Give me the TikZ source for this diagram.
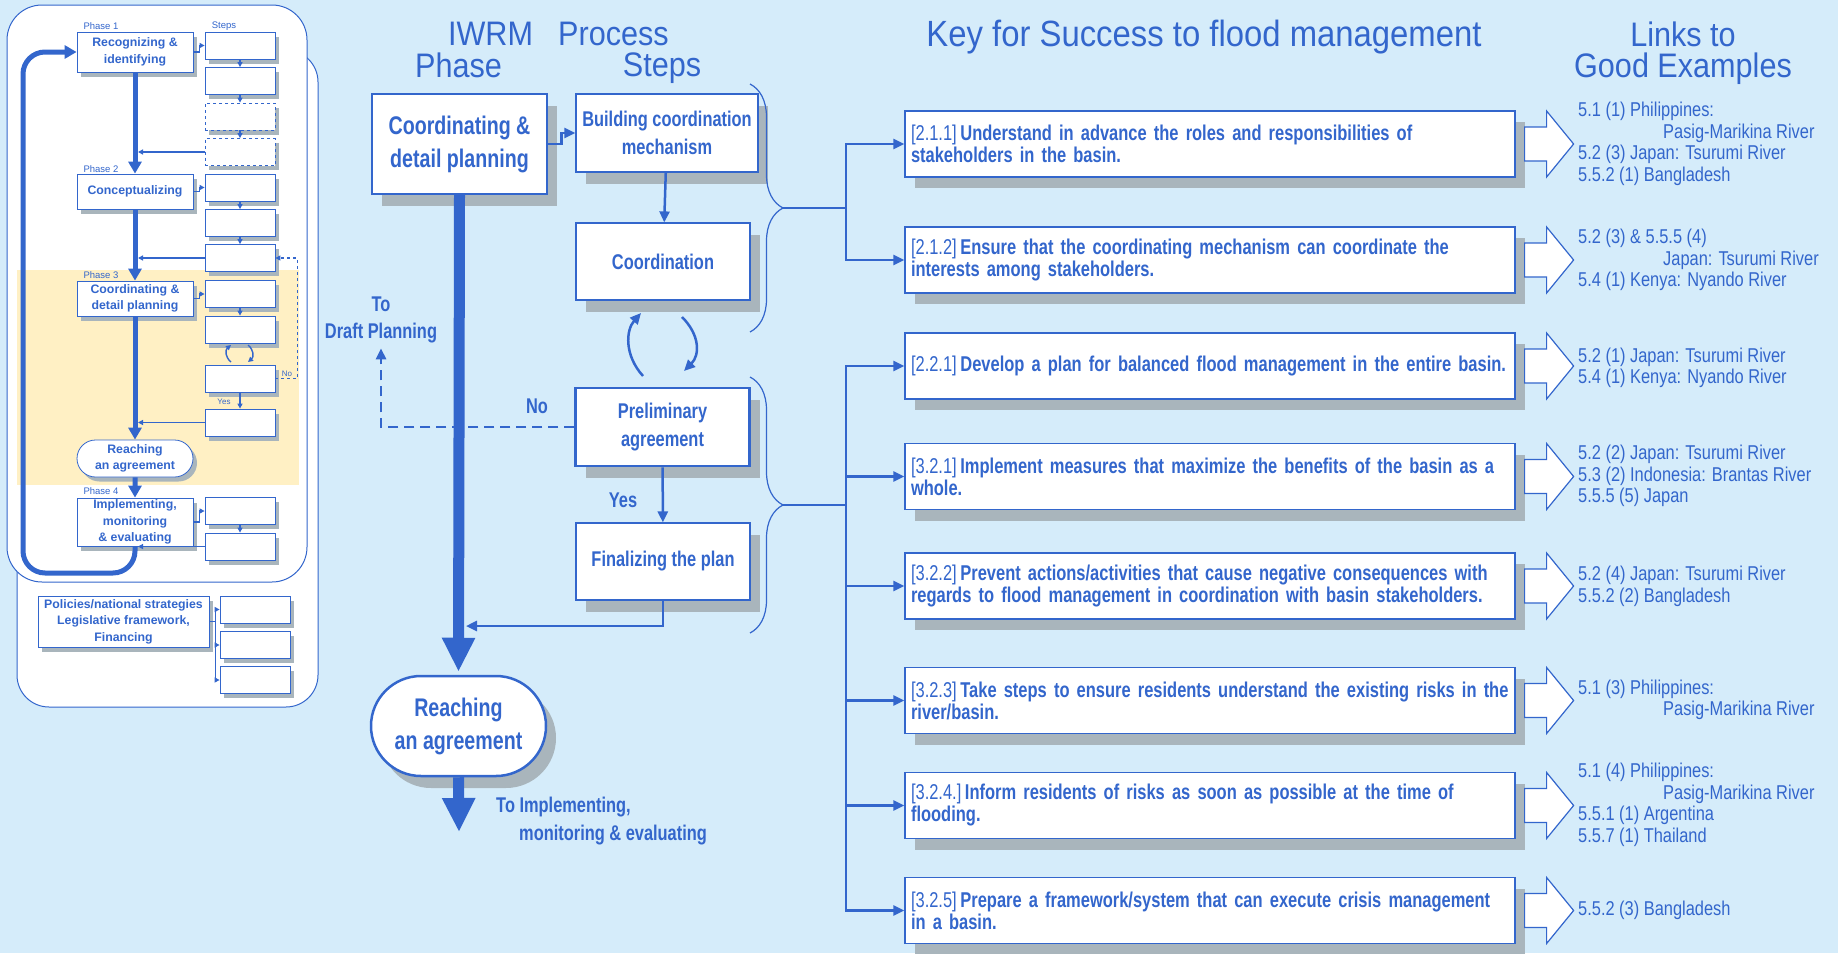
\documentclass[tikz,border=0pt]{standalone}
\usepackage{fontspec}
\setmainfont{Liberation Sans}
\newfontfamily\narrowfont[FakeStretch=0.82]{Liberation Sans}
\newfontfamily\boldnarrow[FakeStretch=0.77]{Liberation Sans}
\newfontfamily\titlefont[FakeStretch=0.9]{Liberation Sans}
\usetikzlibrary{arrows.meta,shadows,shapes.misc,decorations.pathreplacing,calc}

\definecolor{bgblue}{HTML}{D5ECFA}
\definecolor{iwrmblue}{HTML}{3366CC}
\definecolor{shadowgray}{HTML}{A9B5BC}
\definecolor{phasebeige}{HTML}{FFF0C4}

\newcommand{\keyno}[1]{{\mdseries[#1]}\,}
\newcommand{\keyfont}{\boldnarrow\bfseries\fontsize{21.4}{22}\selectfont\spaceskip=3.8pt plus 1pt\relax}

\tikzset{
  box/.style={draw=iwrmblue, fill=white, line width=1.2pt, text=iwrmblue, align=center, inner sep=0pt},
  bigshadow/.style={drop shadow={shadow xshift=10pt, shadow yshift=-12pt, fill=shadowgray, opacity=1}},
  smallshadow/.style={drop shadow={shadow xshift=4pt, shadow yshift=-4.5pt, fill=shadowgray, opacity=1}},
  phasebox/.style={box, bigshadow, minimum width=175pt, minimum height=100pt, font=\boldnarrow\bfseries\fontsize{25.5}{33}\selectfont},
  stepbox/.style={box, bigshadow, minimum width=174pt, minimum height=77pt, font=\boldnarrow\bfseries\fontsize{21.3}{28}\selectfont},
  keybox/.style={box, drop shadow={shadow xshift=10pt, shadow yshift=-11pt, fill=shadowgray, opacity=1}, minimum width=610pt, minimum height=66pt, text width=598pt, align=left, font=\keyfont},
  linktext/.style={anchor=west, align=left, text=iwrmblue, inner sep=0pt, font=\narrowfont\fontsize{20}{21.5}\selectfont},
  headtext/.style={text=iwrmblue, inner sep=0pt, anchor=base, font=\titlefont\fontsize{34}{33}\selectfont},
  plainlabel/.style={text=iwrmblue, inner sep=0pt, align=center, font=\boldnarrow\bfseries\fontsize{21.3}{27}\selectfont},
  minibox/.style={box, line width=0.8pt, smallshadow, font=\bfseries\fontsize{12.3}{16.5}\selectfont},
  ministep/.style={box, line width=0.8pt, smallshadow, minimum width=70pt, minimum height=27pt},
  minilabel/.style={text=iwrmblue, inner sep=0pt, font=\fontsize{9.5}{11}\selectfont},
  minimain/.style={draw=iwrmblue, line width=5pt, -{Triangle[length=12pt,width=13pt]}},
  miniconn/.style={draw=iwrmblue, line width=1.4pt, -{Triangle[length=5pt,width=5pt]}},
  conn/.style={draw=iwrmblue, line width=2.5pt},
  arr/.style={-{Triangle[length=11pt,width=10pt]}},
  mainflow/.style={draw=iwrmblue, line width=11pt, -{Triangle[length=34pt,width=31pt]}},
  bracepath/.style={draw=iwrmblue, line width=1.2pt, decorate, decoration={brace, amplitude=33pt}},
  hollow/.style={draw=iwrmblue, fill=white, line width=1.2pt}
}

\begin{document}
\begin{tikzpicture}[x=1pt, y=-1pt]
  \fill[bgblue] (0,0) rectangle (1838,953);
  \useasboundingbox (0,0) rectangle (1838,953);

  \draw[draw=iwrmblue, fill=white, line width=1pt, rounded corners=32pt] (17,50) rectangle (318,707);
  \draw[draw=iwrmblue, fill=white, line width=1pt, rounded corners=35pt] (7,5) rectangle (307,582);
  \fill[phasebeige] (17,270) rectangle (299,485);

  \node[minibox, minimum width=116pt, minimum height=40pt] (m1) at (135,52) {Recognizing \&\\identifying};
  \node[minibox, minimum width=116pt, minimum height=35pt] (m2) at (135,191.5) {Conceptualizing};
  \node[minibox, minimum width=116pt, minimum height=35pt] (m3) at (135,298.5) {Coordinating \&\\detail planning};
  \node[minibox, rounded rectangle, minimum width=116pt, minimum height=37pt] (m4) at (135,458.5) {Reaching\\an agreement};
  \node[minibox, minimum width=116pt, minimum height=48pt] (m5) at (135,522) {Implementing,\\monitoring\\\& evaluating};
  \node[minibox, minimum width=171pt, minimum height=51pt] (pol) at (123.5,621.5) {Policies/national strategies\\Legislative framework,\\Financing};

  \foreach \n/\y in {1/45.5,2/81,5/187.5,6/223,7/258,8/294,9/329.5,10/378.5,11/422.5,12/511,13/546.5}
    \node[ministep] (s\n) at (240,\y) {};
  \foreach \n/\y in {3/116.5,4/152}
    \node[ministep, dashed] (s\n) at (240,\y) {};
  \foreach \n/\y in {1/609.5,2/645,3/680}
    \node[ministep] (pstep\n) at (255,\y) {};

  \foreach \n/\y in {1/26,2/169,3/275,4/491}
    \node[minilabel] (ph\n) at (101,\y) {Phase \n};
  \node[minilabel] (stepslbl) at (224,26) {Steps};
  \node[minilabel, font=\fontsize{8}{9}\selectfont] (minino) at (287,374) {No};
  \node[minilabel, font=\fontsize{8}{9}\selectfont] (miniyes) at (224,402) {Yes};

  \draw[minimain] (m1) -- (m2);
  \draw[minimain] (m2) -- (m3);
  \draw[minimain] (m3) -- (m4);
  \draw[minimain] (m4) -- (m5);
  \coordinate (loopbl) at (23,573);
  \draw[minimain, rounded corners=22pt] (m5.south) |- (loopbl) |- (m1.west);

  \foreach \a/\b in {1/2,2/3,3/4,5/6,6/7,8/9,10/11,12/13}
    \draw[miniconn] (s\a) -- (s\b);
  \foreach \p/\s in {m1/s1,m2/s5,m3/s8,m5/s12}
    \draw[miniconn] (\p.east) -- ++(6,0) |- (\s.west);
  \foreach \s in {s4,s7,s11,s13}
    \draw[miniconn] (\s.west) -- ($(\s.west -| m1.south)+(3,0)$);
  \draw[miniconn, dashed, line width=1.2pt] (s10.east) -- ++(22,0) |- (s7.east);
  \foreach \n in {1,2,3}
    \draw[miniconn] (pol.east) -- ++(6,0) |- (pstep\n.west);
  \coordinate (mcyc1a) at (231,362); \coordinate (mcyc1b) at (231,345);
  \coordinate (mcyc2a) at (248,345); \coordinate (mcyc2b) at (248,362);
  \draw[miniconn] (mcyc1a) .. controls (225,357) and (225,350) .. (mcyc1b);
  \draw[miniconn] (mcyc2a) .. controls (254,350) and (254,357) .. (mcyc2b);

  \node[headtext] (iwrm) at (490.5,45) {IWRM};
  \node[headtext] (process) at (613.5,45) {Process};
  \node[headtext] (phasettl) at (458.5,77) {Phase};
  \node[headtext] (stepsttl) at (662,76) {Steps};
  \node[headtext, font=\titlefont\fontsize{36.5}{33}\selectfont] (keyttl) at (1204,46) {Key for Success to flood management};
  \node[headtext] (linksttl) at (1683,46) {Links to};
  \node[headtext] (goodttl) at (1683,77) {Good Examples};

  \node[phasebox] (phase) at (459.5,144) {Coordinating \&\\detail planning};
  \node[stepbox, minimum width=182pt, minimum height=78pt] (build) at (667,133) {Building coordination\\mechanism};
  \node[stepbox] (coord) at (663,261.5) {Coordination};
  \node[stepbox, line width=2.5pt, minimum height=78pt] (prelim) at (662.5,427) {Preliminary\\agreement};
  \node[stepbox] (final) at (663,561.5) {Finalizing the plan};
  \node[phasebox, rounded rectangle, line width=2.5pt] (reach) at (458.5,726) {Reaching\\an agreement};

  \node[plainlabel] (todraft) at (381,320) {To\\Draft Planning};
  \node[plainlabel] (nolbl) at (537,406) {No};
  \node[plainlabel] (yeslbl) at (623,500) {Yes};
  \node[plainlabel, align=left, anchor=north west, font=\boldnarrow\bfseries\fontsize{21.3}{28}\selectfont] (toimpl) at (496,797) {To Implementing,\\\hspace*{23pt}monitoring \& evaluating};

  \draw[conn, arr] (phase.east) -- ++(14,0) |- (build.west);
  \draw[conn, arr] (build) -- (coord);
  \draw[conn, arr] (prelim) -- (final);
  \coordinate (cyc1a) at (643,376); \coordinate (cyc1b) at (641,313);
  \coordinate (cyc2a) at (682,317); \coordinate (cyc2b) at (684,371);
  \draw[conn, arr] (cyc1a) .. controls (624,355) and (626,330) .. (cyc1b);
  \draw[conn, arr] (cyc2a) .. controls (700,335) and (700,355) .. (cyc2b);
  \draw[conn, arr, dash pattern=on 10pt off 6pt, shorten >=5pt] (prelim.west) -| (todraft.south);
  \coordinate (mainjoin) at (466,626);
  \draw[conn, arr] (final.south) |- (mainjoin);
  \draw[mainflow, shorten >=3pt] (phase.south) -- (reach.north);
  \coordinate (implend) at (459,832);
  \draw[mainflow] (reach.south) -- (implend);

  \coordinate (br1top) at (750,84); \coordinate (br1bot) at (750,332);
  \coordinate (br2top) at (750,377); \coordinate (br2bot) at (750,633);
  \draw[bracepath] (br1top) -- (br1bot);
  \draw[bracepath] (br2top) -- (br2bot);

  \node[keybox] (k1) at (1210,144) {\keyno{2.1.1}Understand in advance the roles and responsibilities of\\stakeholders in the basin.};
  \node[keybox] (k2) at (1210,260) {\keyno{2.1.2}Ensure that the coordinating mechanism can coordinate the\\interests among stakeholders.};
  \node[keybox] (k3) at (1210,366) {\keyno{2.2.1}Develop a plan for balanced flood management in the entire basin.};
  \node[keybox] (k4) at (1210,476.5) {\keyno{3.2.1}Implement measures that maximize the benefits of the basin as a\\whole.};
  \node[keybox] (k5) at (1210,586) {\keyno{3.2.2}Prevent actions/activities that cause negative consequences with\\regards to flood management in coordination with basin stakeholders.};
  \node[keybox] (k6) at (1210,700.5) {\keyno{3.2.3}Take steps to ensure residents understand the existing risks in the\\river/basin.};
  \node[keybox] (k7) at (1210,805.5) {\keyno{3.2.4.}Inform residents of risks as soon as possible at the time of\\flooding.};
  \node[keybox] (k8) at (1210,910.5) {\keyno{3.2.5}Prepare a framework/system that can execute crisis management\\in a basin.};

  \coordinate (br1tip) at (783,208); \coordinate (spine1) at (846,208);
  \coordinate (br2tip) at (783,505); \coordinate (spine2) at (846,505);
  \draw[conn] (br1tip) -- (spine1);
  \draw[conn] (br2tip) -- (spine2);
  \foreach \k in {k1,k2}
    \draw[conn, arr] (spine1) |- (\k.west);
  \foreach \k in {k3,k4,k5,k6,k7,k8}
    \draw[conn, arr] (spine2) |- (\k.west);

  \foreach \k in {k1,k2,k3,k4,k5,k6,k7,k8}
    \draw[hollow] ($(\k.east)+(9,-17)$) -- ++(22,0) -- ++(0,-16) -- ++(27,33) -- ++(-27,33) -- ++(0,-16) -- ++(-22,0) -- cycle;

  \node[linktext] (l1) at (1578,144) {5.1 (1) Philippines:\\\hspace*{85pt}Pasig-Marikina River\\5.2 (3) Japan: Tsurumi River\\5.5.2 (1) Bangladesh};
  \node[linktext] (l2) at (1578,260) {5.2 (3) \& 5.5.5 (4)\\\hspace*{85pt}Japan: Tsurumi River\\5.4 (1) Kenya: Nyando River};
  \node[linktext] (l3) at (1578,368) {5.2 (1) Japan: Tsurumi River\\5.4 (1) Kenya: Nyando River};
  \node[linktext] (l4) at (1578,476) {5.2 (2) Japan: Tsurumi River\\5.3 (2) Indonesia: Brantas River\\5.5.5 (5) Japan};
  \node[linktext] (l5) at (1578,586.5) {5.2 (4) Japan: Tsurumi River\\5.5.2 (2) Bangladesh};
  \node[linktext] (l6) at (1578,700) {5.1 (3) Philippines:\\\hspace*{85pt}Pasig-Marikina River};
  \node[linktext] (l7) at (1578,805) {5.1 (4) Philippines:\\\hspace*{85pt}Pasig-Marikina River\\5.5.1 (1) Argentina\\5.5.7 (1) Thailand};
  \node[linktext] (l8) at (1578,910) {5.5.2 (3) Bangladesh};
\end{tikzpicture}
\end{document}
